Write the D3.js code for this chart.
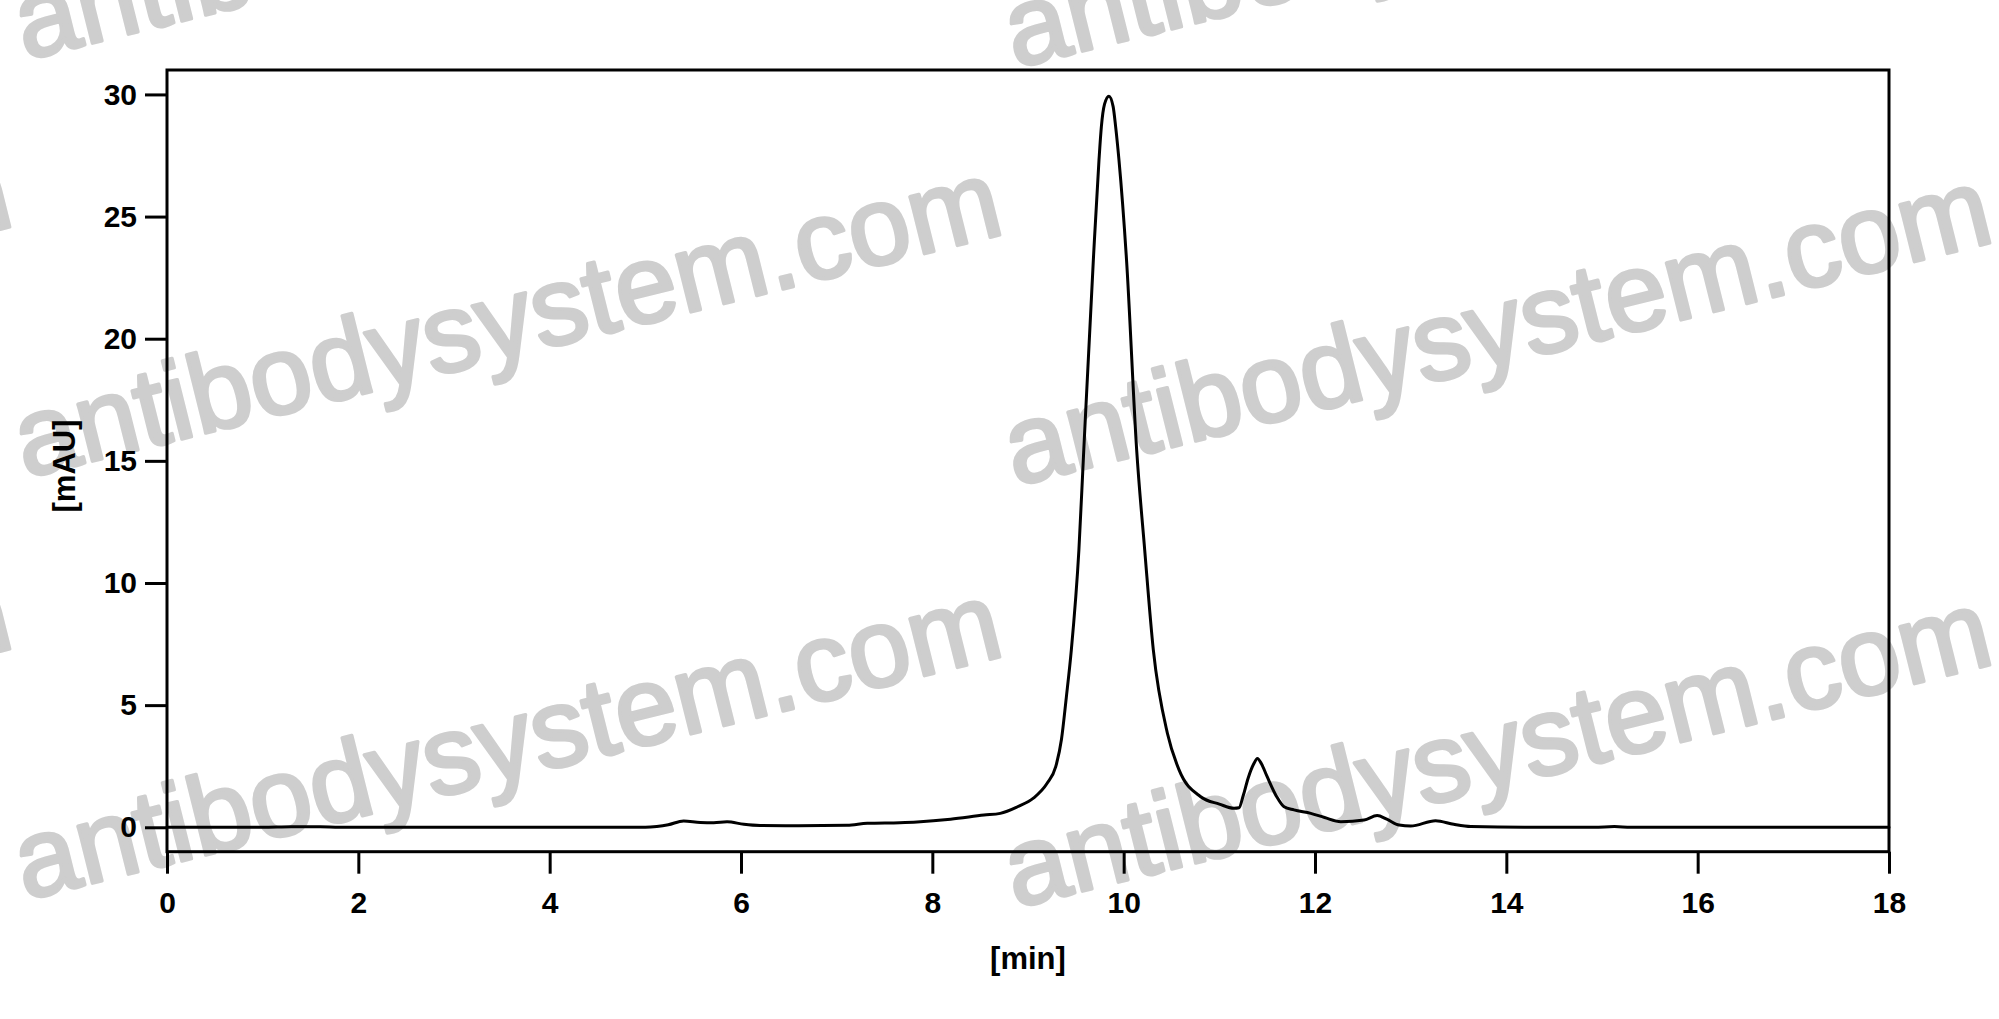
<!DOCTYPE html>
<html>
<head>
<meta charset="utf-8">
<script src="https://cdn.jsdelivr.net/npm/d3@7"></script>
<style>
  html, body { margin: 0; padding: 0; background: #fff; }
  svg { display: block; }
  .axis text { font-family: "Liberation Sans", Arial, sans-serif; font-weight: 700; font-size: 30px; fill: #000; }
  .axis-label { font-family: "Liberation Sans", Arial, sans-serif; font-weight: 700; font-size: 31px; fill: #000; }
  .watermark { font-family: "Liberation Sans", Arial, sans-serif; font-size: 111px; fill: #cecece; stroke: #cecece; stroke-width: 3.5px; stroke-linejoin: round; }
</style>
</head>
<body>
<div class="hplc-graph"></div>
<script>
"use strict";

// retention time [min] and absorbance [mAU]
const times = [
  0, 1.0, 1.3, 1.6, 1.8, 3, 5, 5.12, 5.24, 5.4, 5.575, 5.715, 5.854, 6.03, 6.2,
  6.6, 7.11, 7.32, 7.66, 7.84, 8.19, 8.54, 8.71, 8.89, 9.06, 9.2, 9.29, 9.35,
  9.4, 9.453, 9.532, 9.58, 9.683, 9.742, 9.767, 9.8, 9.846, 9.89, 9.916, 9.951,
  10.03, 10.136, 10.22, 10.31, 10.457, 10.579, 10.805, 11.0, 11.154, 11.206,
  11.25, 11.3, 11.36, 11.398, 11.44, 11.5, 11.6, 11.677, 11.78, 11.956, 12.1,
  12.27, 12.514, 12.65, 12.75, 12.88, 13.0, 13.26, 13.45, 13.63, 14.19, 14.92,
  15.13, 15.3, 16.5, 18
];
const signal = [
  0, 0, 0.02, 0.02, 0, 0, 0, 0.03, 0.1, 0.26, 0.2, 0.19, 0.23, 0.12, 0.07,
  0.06, 0.08, 0.16, 0.19, 0.22, 0.33, 0.5, 0.57, 0.84, 1.2, 1.8, 2.48, 3.6,
  5.3, 7.26, 11.35, 15.2, 23.22, 27.31, 28.68, 29.6, 29.93, 29.5, 28.68, 27.31,
  23.22, 15.44, 11.35, 7.26, 3.85, 2.35, 1.25, 0.95, 0.78, 0.8,
  1.3, 2.0, 2.6, 2.82, 2.6, 2.07, 1.25, 0.84, 0.71, 0.57, 0.4,
  0.23, 0.3, 0.48, 0.33, 0.09, 0.05, 0.27, 0.12, 0.03, 0, 0,
  0.03, 0, 0, 0
];

const xTicks = [0, 2, 4, 6, 8, 10, 12, 14, 16, 18];
const yTicks = [0, 5, 10, 15, 20, 25, 30];
const watermarkText = "antibodysystem.com";
const xLabel = "[min]";
const yLabel = "[mAU]";

const trace = times.map((t, i) => ({ t: t, v: signal[i] }));

const totalWidth = 1999;
const totalHeight = 1019;
const margin = { top: 70, right: 110, bottom: 167.3, left: 167 };
const width = totalWidth - margin.left - margin.right;
const height = totalHeight - margin.top - margin.bottom;

const root = d3
  .select(".hplc-graph")
  .append("svg")
  .attr("width", totalWidth)
  .attr("height", totalHeight);

// watermark tiles behind the plot
const marks = [];
[52, 470, 892, 1312].forEach((row) => {
  [-965, 25, 1015].forEach((col, j) => {
    marks.push({ x: col, y: row + j * 8 });
  });
});

root
  .append("g")
  .selectAll("text")
  .data(marks)
  .join("text")
  .attr("class", "watermark")
  .attr("transform", (d) => `translate(${d.x},${d.y}) rotate(-14)`)
  .text(watermarkText);

const svg = root
  .append("g")
  .attr("transform", "translate(" + margin.left + "," + margin.top + ")");

const x = d3.scaleLinear().domain([0, 18]).range([0, width]);
const y = d3.scaleLinear().domain([-1, 31]).range([height, 0]);

const xAxis = d3
  .axisBottom(x)
  .tickValues(xTicks)
  .tickSize(22)
  .tickSizeOuter(0)
  .tickPadding(18)
  .tickFormat(d3.format("d"));

const yAxis = d3
  .axisLeft(y)
  .tickValues(yTicks)
  .tickSize(22)
  .tickSizeOuter(0)
  .tickPadding(8)
  .tickFormat(d3.format("d"));

svg
  .append("g")
  .attr("class", "axis x-axis")
  .attr("transform", `translate(0, ${height})`)
  .call(xAxis)
  .call((g) => g.select(".domain").remove())
  .call((g) => g.selectAll(".tick line").attr("stroke", "#000").attr("stroke-width", 3));

svg
  .append("g")
  .attr("class", "axis y-axis")
  .call(yAxis)
  .call((g) => g.select(".domain").remove())
  .call((g) => g.selectAll(".tick line").attr("stroke", "#000").attr("stroke-width", 3));

// trace
const line = d3
  .line()
  .x((d) => x(d.t))
  .y((d) => y(d.v))
  .curve(d3.curveMonotoneX);

svg
  .append("path")
  .datum(trace)
  .attr("fill", "none")
  .attr("stroke", "#000")
  .attr("stroke-width", 3)
  .attr("stroke-linejoin", "round")
  .attr("stroke-linecap", "round")
  .attr("d", line);

// frame
svg
  .append("rect")
  .attr("x", 0)
  .attr("y", 0)
  .attr("width", width)
  .attr("height", height)
  .attr("fill", "none")
  .attr("stroke", "#000")
  .attr("stroke-width", 3);

svg
  .append("text")
  .attr("class", "axis-label")
  .attr("x", width / 2)
  .attr("y", height + 117)
  .attr("text-anchor", "middle")
  .text(xLabel);

svg
  .append("text")
  .attr("class", "axis-label")
  .attr("transform", `translate(${75 - margin.left}, ${466 - margin.top}) rotate(-90)`)
  .attr("text-anchor", "middle")
  .text(yLabel);
</script>
</body>
</html>
